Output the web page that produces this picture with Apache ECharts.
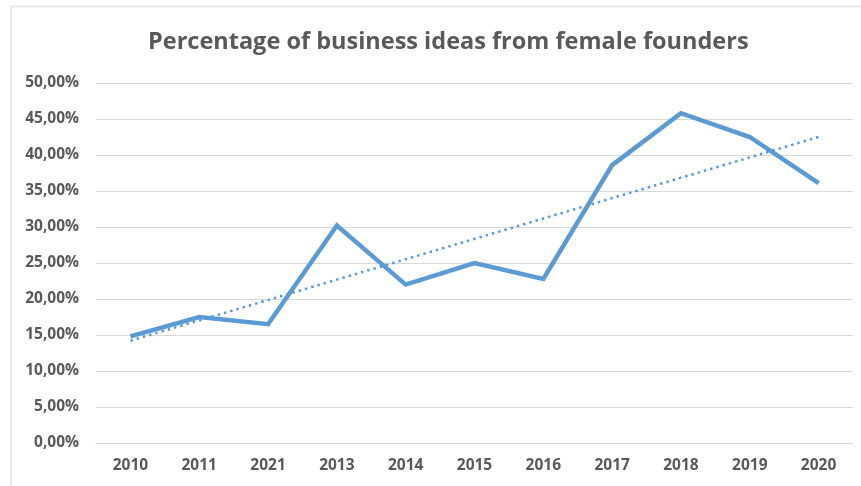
<!DOCTYPE html>
<html>
<head>
<meta charset="utf-8">
<script src="https://cdn.jsdelivr.net/npm/echarts@6/dist/echarts.min.js"></script>
<style>
html,body{margin:0;padding:0;background:#fff;}
#chart{width:861px;height:486px;}
</style>
</head>
<body>
<div id="chart"></div>
<script>
const titleText = 'Percentage of business ideas from female founders';
const categories = ['2010','2011','2021','2013','2014','2015','2016','2017','2018','2019','2020'];
const shares = [14.8, 17.5, 16.5, 30.2, 22.0, 25.0, 22.8, 38.6, 45.8, 42.5, 36.1];
const trendEnds = [14.2, 42.5];
const yTicks = [0, 5, 10, 15, 20, 25, 30, 35, 40, 45, 50];

const chart = echarts.init(document.getElementById('chart'), null, {renderer: 'canvas'});
const textColor = '#595959';
const fontFam = '"Open Sans", "Liberation Sans", sans-serif';

chart.setOption({
  animation: false,
  backgroundColor: '#ffffff',
  graphic: [
    {type: 'line', shape: {x1: 11, y1: 6.5, x2: 861, y2: 6.5}, style: {stroke: '#e6e6e6', lineWidth: 2}},
    {type: 'line', shape: {x1: 11, y1: 6, x2: 11, y2: 486}, style: {stroke: '#e6e6e6', lineWidth: 2}}
  ],
  title: {
    text: titleText,
    left: 143,
    top: 25,
    textStyle: {fontFamily: fontFam, fontSize: 23.5, fontWeight: 'bold', color: textColor}
  },
  grid: {left: 96, right: 8, top: 83, bottom: 43, containLabel: false},
  xAxis: {
    type: 'category',
    data: categories,
    boundaryGap: true,
    axisLine: {show: true, lineStyle: {color: '#d9d9d9', width: 1}},
    axisTick: {show: false},
    axisLabel: {color: textColor, fontFamily: fontFam, fontSize: 15.5, fontWeight: 'bold', margin: 15}
  },
  yAxis: {
    type: 'value',
    min: yTicks[0],
    max: yTicks[yTicks.length - 1],
    interval: yTicks[1] - yTicks[0],
    axisLine: {show: false},
    axisTick: {show: false},
    splitLine: {lineStyle: {color: '#d9d9d9', width: 1}},
    axisLabel: {
      color: textColor, fontFamily: fontFam, fontSize: 15.5, fontWeight: 'bold', margin: 17,
      formatter: v => v.toFixed(2).replace('.', ',') + '%'
    }
  },
  series: [
    {
      type: 'line',
      data: shares,
      symbol: 'none',
      lineStyle: {color: '#5b9bd5', width: 4.5, join: 'miter'},
      z: 3
    },
    {
      type: 'line',
      data: [[categories[0], trendEnds[0]], [categories[categories.length - 1], trendEnds[1]]],
      symbol: 'none',
      lineStyle: {color: '#5b9bd5', width: 2.5, type: [2.5, 4], cap: 'butt'},
      z: 2
    }
  ]
});
</script>
</body>
</html>
